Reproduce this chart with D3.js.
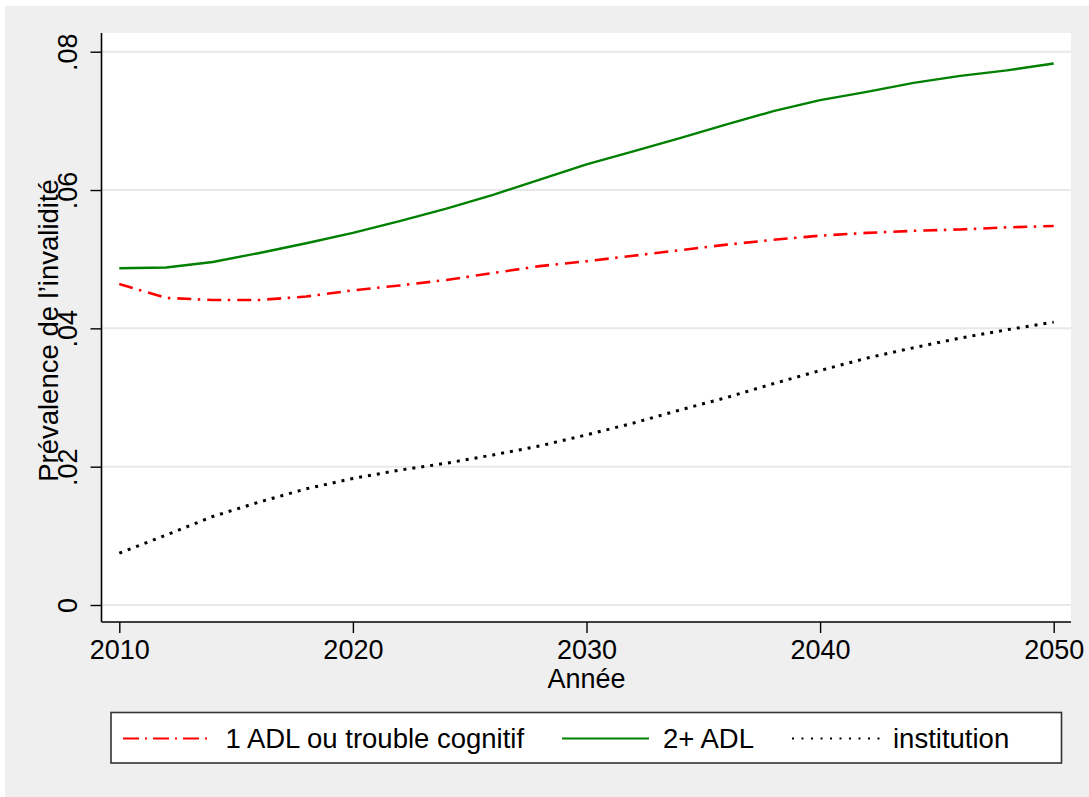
<!DOCTYPE html>
<html>
<head>
<meta charset="utf-8">
<script src="https://cdn.jsdelivr.net/npm/d3@7"></script>
<style>
  html, body { margin: 0; padding: 0; background: #ffffff; }
  svg { display: block; }
  text { font-family: "Liberation Sans", Arial, Helvetica, sans-serif; fill: #000; }
</style>
</head>
<body>
<svg id="chart" width="1089" height="797"></svg>
<script>
// ---- Data ----
const years = [2010, 2012, 2014, 2016, 2018, 2020, 2022, 2024, 2026, 2028, 2030,
               2032, 2034, 2036, 2038, 2040, 2042, 2044, 2046, 2048, 2050];
const adl1 = [0.0464, 0.0444, 0.0441, 0.0441, 0.0446, 0.0455, 0.0462, 0.0470, 0.0480, 0.0490, 0.0497,
              0.0505, 0.0513, 0.0521, 0.0528, 0.0534, 0.0538, 0.0541, 0.0543, 0.0546, 0.0548];
const adl2 = [0.0487, 0.0488, 0.0496, 0.0509, 0.0523, 0.0538, 0.0555, 0.0573, 0.0593, 0.0615, 0.0637,
              0.0656, 0.0675, 0.0695, 0.0714, 0.0730, 0.0742, 0.0755, 0.0765, 0.0773, 0.0783];
const inst = [0.0075, 0.0101, 0.0128, 0.0149, 0.0168, 0.0183, 0.0195, 0.0205, 0.0217, 0.0230, 0.0246,
              0.0263, 0.0282, 0.0300, 0.0320, 0.0339, 0.0357, 0.0372, 0.0386, 0.0398, 0.0409];
const seriesNames = ["1 ADL ou trouble cognitif", "2+ ADL", "institution"];
const xTicks = [2010, 2020, 2030, 2040, 2050];
const yTicks = [0, 0.02, 0.04, 0.06, 0.08];
const yTickLabels = ["0", ".02", ".04", ".06", ".08"];
const xTitle = "Année";
const yTitle = "Prévalence de l’invalidité";

// ---- Layout ----
const svg = d3.select("#chart");
const plot = { left: 101.5, right: 1071, top: 33, bottom: 622 };
const x = d3.scaleLinear().domain([2010, 2050]).range([119.3, 1053.7]);
const y = d3.scaleLinear().domain([0, 0.08]).range([605, 51.7]);
const FS = 27;
const FSL = 27.5;

// outer background
svg.append("rect").attr("x", 5).attr("y", 6).attr("width", 1084).attr("height", 791)
  .attr("fill", "#efefef");
// plot region
svg.append("rect").attr("x", plot.left).attr("y", plot.top)
  .attr("width", plot.right - plot.left).attr("height", plot.bottom - plot.top)
  .attr("fill", "#ffffff");

// gridlines
svg.append("g").selectAll("line").data(yTicks).join("line")
  .attr("x1", plot.left).attr("x2", plot.right)
  .attr("y1", d => y(d)).attr("y2", d => y(d))
  .attr("stroke", "#e8e8e8").attr("stroke-width", 2);

// y axis
const yAxis = d3.axisLeft(y).tickValues(yTicks).tickSize(11).tickPadding(7)
  .tickFormat((d, i) => yTickLabels[i]);
const gy = svg.append("g").attr("transform", `translate(${plot.left},0)`).call(yAxis);
gy.select(".domain").attr("d", `M0,${plot.top}V${plot.bottom}`).attr("stroke", "#000").attr("stroke-width", 1.6);
gy.selectAll(".tick line").attr("stroke", "#000").attr("stroke-width", 1.4);
gy.selectAll(".tick text")
  .attr("font-size", FS).attr("font-family", "Liberation Sans, Arial, sans-serif")
  .attr("fill", "#000")
  .attr("x", null).attr("dy", null)
  .attr("text-anchor", "middle")
  .attr("transform", "translate(-24.3,0) rotate(-90)")
  .attr("y", 0);

// x axis
const xAxis = d3.axisBottom(x).tickValues(xTicks).tickSize(11).tickPadding(6)
  .tickFormat(d3.format("d"));
const gx = svg.append("g").attr("transform", `translate(0,${plot.bottom})`).call(xAxis);
gx.select(".domain").attr("d", `M${plot.left},0H${plot.right}`).attr("stroke", "#000").attr("stroke-width", 1.6);
gx.selectAll(".tick line").attr("stroke", "#000").attr("stroke-width", 1.4);
gx.selectAll(".tick text")
  .attr("font-size", FS).attr("font-family", "Liberation Sans, Arial, sans-serif")
  .attr("fill", "#000").attr("dy", null).attr("y", 37.3);

// axis titles
svg.append("text").attr("x", x(2030)).attr("y", 688.3)
  .attr("text-anchor", "middle").attr("font-size", FS).text(xTitle);
svg.append("text")
  .attr("transform", `translate(58,${(plot.top + plot.bottom) / 2 + 3}) rotate(-90)`)
  .attr("text-anchor", "middle").attr("font-size", FSL).text(yTitle);

// series lines
const styles = [
  { data: adl1, color: "#ff0000", width: 2.6, dash: "14,6.5,2.5,7", ldash: "16,6,2,6", lw: 2.2 },
  { data: adl2, color: "#008000", width: 2.4, dash: null, ldash: null, lw: 2.2 },
  { data: inst, color: "#000000", width: 3, dash: "3,6", ldash: "2,7.5", lw: 1.8 }
];
const line = d3.line().x((d, i) => x(years[i])).y(d => y(d));
svg.append("g").selectAll("path").data(styles).join("path")
  .attr("d", s => line(s.data))
  .attr("fill", "none")
  .attr("stroke", s => s.color)
  .attr("stroke-width", s => s.width)
  .attr("stroke-dasharray", s => s.dash)
  .attr("stroke-linejoin", "round");

// legend
const lg = svg.append("g");
lg.append("rect").attr("x", 111).attr("y", 712.5).attr("width", 950.5).attr("height", 50.5)
  .attr("fill", "#ffffff").attr("stroke", "#333").attr("stroke-width", 1.6);
const legendPos = [
  { x1: 123, x2: 209, tx: 225.5 },
  { x1: 562, x2: 649, tx: 663 },
  { x1: 792, x2: 880, tx: 893 }
];
styles.forEach((s, i) => {
  const p = legendPos[i];
  lg.append("line").attr("x1", p.x1).attr("x2", p.x2).attr("y1", 738.5).attr("y2", 738.5)
    .attr("stroke", s.color).attr("stroke-width", s.lw).attr("stroke-dasharray", s.ldash);
  lg.append("text").attr("x", p.tx).attr("y", 748.3).attr("font-size", FSL).text(seriesNames[i]);
});
</script>
</body>
</html>
